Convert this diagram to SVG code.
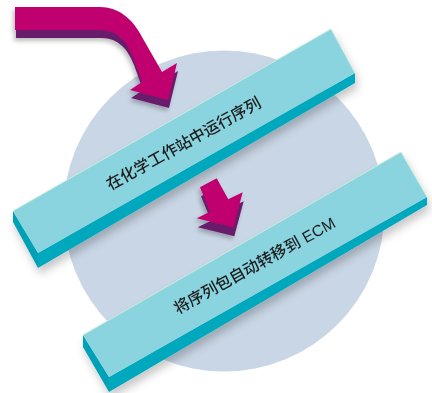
<svg xmlns="http://www.w3.org/2000/svg" width="432" height="393" viewBox="0 0 432 393">
<defs>
<style>
.top{fill:#8ad4e0}
.side{fill:#00a8bd}
.end{fill:#00a0b6}
.edge{fill:none;stroke:#c6ecd9;stroke-width:1}
.mag{fill:#c1006f}
.pur{fill:#6b1e6c}
.lbl{font-family:"Liberation Sans","Noto Sans CJK SC",sans-serif;font-weight:500;fill:#1e1e1e;text-anchor:middle}
</style>
<filter id="sh" x="-20%" y="-20%" width="140%" height="160%">
<feDropShadow dx="2" dy="6" stdDeviation="4" flood-color="#000" flood-opacity="0.22"/>
</filter>
<filter id="sh2" x="-20%" y="-20%" width="140%" height="160%">
<feDropShadow dx="-2" dy="3" stdDeviation="2" flood-color="#000" flood-opacity="0.25"/>
</filter>
</defs>
<rect width="432" height="393" fill="#ffffff"/>
<circle id="circle" cx="224" cy="211" r="160.5" fill="#c9d6e5"/>

<g id="connectors">
<g id="arrow-big" filter="url(#sh2)">
<path class="pur" transform="translate(1,8)" d="M15,7 L100,7 C118,7 132,18 142,37 L162,72 L177,63 L168,100 L130,90 L142,82 L133,57 C127,42 118,30 100,30 L15,30 Z"/>
<path class="mag" d="M15,7 L100,7 C118,7 132,18 142,37 L162,72 L177,63 L168,100 L130,90 L142,82 L133,57 C127,42 118,30 100,30 L15,30 Z"/>
</g>
<g id="arrow-small" filter="url(#sh2)">
<path class="pur" transform="translate(1,9)" d="M200,187.3 L216.7,178.3 L228.3,199.3 L242.7,192.3 L233.3,227.3 L196.7,218.3 L210,211.7 Z"/>
<path class="mag" d="M200,187.3 L216.7,178.3 L228.3,199.3 L242.7,192.3 L233.3,227.3 L196.7,218.3 L210,211.7 Z"/>
</g>
</g>

<g id="node-1" filter="url(#sh)">
<polygon class="end" points="13,211 38,253 38,268 13,222"/>
<polygon class="side" points="38,253 355,73 355,83 38,268"/>
<polygon class="top" points="13,211 38,253 355,73 331,29"/>
<polyline class="edge" points="13,211 331,29 355,73"/>
<text class="lbl" font-size="15.8" transform="translate(183.5,143.5) rotate(-29)" y="5.6">在化学工作站中运行序列</text>
</g>

<g id="node-2" filter="url(#sh)">
<polygon class="end" points="83,335 109,377 109,392 83,347"/>
<polygon class="side" points="109,377 427,197 427,205 109,392"/>
<polygon class="top" points="83,335 109,377 427,197 401,152"/>
<polyline class="edge" points="83,335 401,152 427,197"/>
<text class="lbl" font-size="15.8" transform="translate(254.5,265.5) rotate(-29)" y="5.6">将序列包自动转移到 ECM</text>
</g>
</svg>
